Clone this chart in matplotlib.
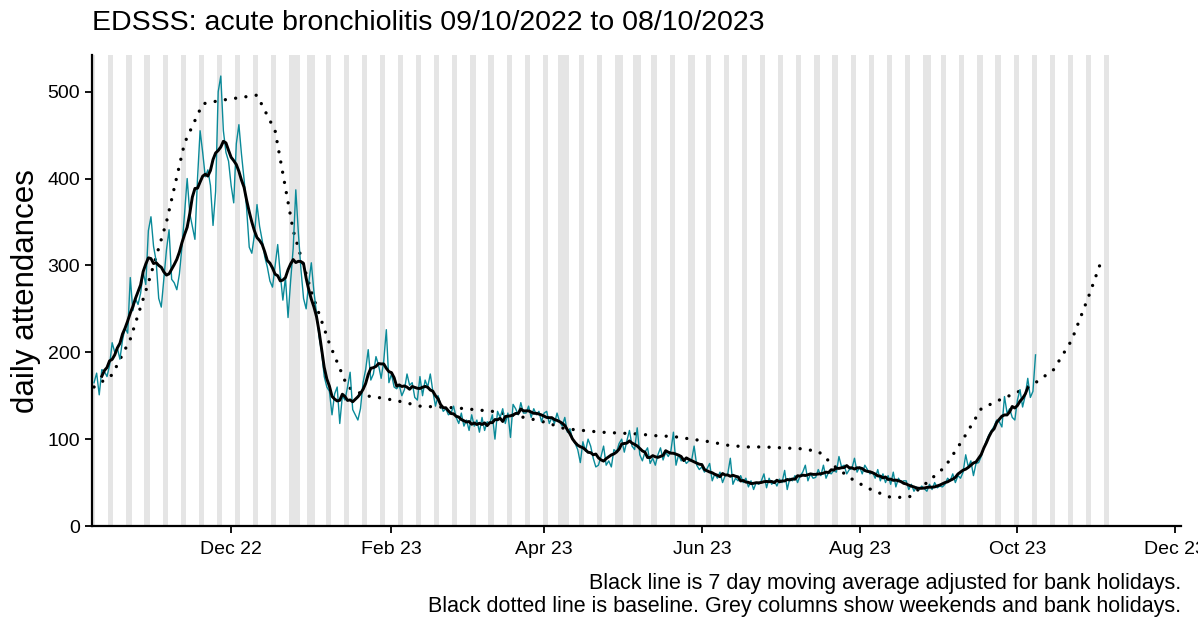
import pandas as pd
import matplotlib
matplotlib.use('Agg')
from matplotlib import pyplot as plt
import matplotlib.dates as mdates

plt.rcParams['font.family'] = ['Liberation Sans', 'DejaVu Sans']

# daily attendances, 09/10/2022 .. 08/10/2023 (one row per week, Sun..Sat)
daily = [
    165, 176, 151, 180, 178, 172, 185,
    211, 200, 205, 192, 214, 228, 222,
    286, 248, 262, 255, 268, 292, 278,
    340, 356, 322, 305, 262, 252, 285,
    318, 341, 284, 280, 272, 290, 322,
    360, 400, 360, 345, 330, 400, 455,
    430, 402, 410, 392, 346, 385, 500,
    518, 455, 430, 420, 392, 372, 440,
    462, 428, 399, 365, 321, 314, 335,
    370, 345, 329, 310, 298, 282, 275,
    300, 324, 290, 260, 286, 240, 282,
    320, 387, 337, 295, 262, 250, 280,
    303, 270, 245, 218, 200, 172, 160,
    155, 128, 152, 160, 118, 150, 145,
    160, 177, 134, 128, 122, 135, 165,
    180, 203, 168, 175, 195, 185, 170,
    190, 226, 165, 175, 160, 158, 162,
    150, 157, 175, 162, 165, 148, 145,
    172, 150, 168, 160, 175, 155, 138,
    150, 140, 132, 135, 128, 130, 138,
    125, 118, 130, 115, 122, 110, 128,
    115, 122, 108, 125, 110, 120, 118,
    128, 100, 132, 125, 135, 118, 130,
    102, 140, 135, 128, 142, 130, 130,
    138, 125, 135, 128, 132, 120, 130,
    132, 118, 125, 118, 130, 120, 115,
    125, 108, 112, 100, 95, 88, 73,
    97, 86, 100, 92, 78, 68, 70,
    80, 92, 70, 75, 68, 88, 85,
    95, 100, 85, 98, 110, 92, 88,
    113, 82, 75, 85, 90, 72, 78,
    70, 82, 90, 76, 85, 80, 86,
    108, 70, 82, 75, 78, 72, 75,
    75, 92, 70, 65, 68, 62, 66,
    72, 52, 60, 55, 62, 50, 58,
    60, 78, 48, 55, 52, 58, 50,
    55, 45, 52, 42, 50, 48, 52,
    60, 44, 55, 48, 52, 46, 54,
    50, 64, 42, 55, 52, 58, 50,
    58, 62, 70, 52, 60, 55, 56,
    65, 58, 70, 55, 62, 60, 64,
    62, 80, 68, 70, 60, 65, 66,
    78, 62, 68, 60, 70, 65, 60,
    62, 55, 65, 52, 60, 50, 58,
    48, 62, 45, 55, 50, 52, 52,
    42, 48, 40, 45, 42, 46, 43,
    40, 48, 42, 50, 44, 46, 45,
    48, 55, 52, 60, 50, 58, 55,
    62, 82, 68, 75, 58, 72, 73,
    80, 90, 98, 105, 110, 115, 122,
    120, 114, 149, 130, 135, 125, 122,
    145, 157, 137, 150, 170, 148, 155,
    197,
]

# baseline, read weekly from 09/10/2022 (last point 03/11/2023)
baseline = [160, 174, 215, 280, 350, 441, 486, 490, 493, 496,
            455, 340, 270, 210, 160, 150, 147, 143, 138, 137,
            136, 134, 132, 128, 124, 119, 112, 110, 108, 107,
            106, 104, 103, 100, 97, 93, 91, 91, 90, 89,
            86, 67, 52, 41, 33, 33, 50, 68, 100, 135,
            145, 154, 165, 180, 214, 268, 310]

bank_holidays = ['2022-12-26', '2022-12-27', '2023-01-02', '2023-04-07', '2023-04-10',
                 '2023-05-01', '2023-05-08', '2023-05-29', '2023-08-28']

start = pd.Timestamp('2022-10-09')
dates = pd.date_range(start, periods=len(daily), freq='D')
s = pd.Series(daily, index=dates)
ma = s.rolling(7, center=True).mean()
base_dates = list(pd.date_range(start, periods=len(baseline) - 1, freq='7D')) + [pd.Timestamp('2023-11-03')]

fig, ax = plt.subplots(figsize=(11.98, 6.2), dpi=100)
fig.subplots_adjust(left=0.0768, right=0.986, bottom=0.1516, top=0.911)

# grey columns for weekends and bank holidays
all_days = pd.date_range(start, '2023-11-05', freq='D')
grey = [d for d in all_days if d.weekday() >= 5] + [pd.Timestamp(b) for b in bank_holidays]
for d in grey:
    ax.axvspan(d - pd.Timedelta(hours=12), d + pd.Timedelta(hours=12),
               color='#e5e5e5', lw=0, zorder=0)

ax.plot(base_dates, baseline, color='black', lw=2.4, dashes=(0.01, 3.1),
        dash_capstyle='round', zorder=2)
ax.plot(s.index, s.values, color='#0a8a99', lw=1.0, zorder=3)
ax.plot(ma.index, ma.values, color='black', lw=2.1, zorder=4)

ax.set_xlim(pd.Timestamp('2022-10-08 05:00'), pd.Timestamp('2023-12-03 08:00'))
ax.set_ylim(0, 542)
ax.set_yticks([0, 100, 200, 300, 400, 500])
ax.xaxis.set_major_locator(mdates.MonthLocator(bymonth=[2, 4, 6, 8, 10, 12]))
ax.xaxis.set_major_formatter(mdates.DateFormatter('%b %y'))

for sp in ['top', 'right']:
    ax.spines[sp].set_visible(False)
for sp in ['left', 'bottom']:
    ax.spines[sp].set_linewidth(1.6)
ax.tick_params(axis='both', length=5, width=1.3, labelsize=14, colors='black')
ax.tick_params(axis='x', pad=6)

ax.set_ylabel('daily attendances', fontsize=22.5, labelpad=5)
fig.text(0.077, 0.963, 'EDSSS: acute bronchiolitis 09/10/2022 to 08/10/2023',
         fontsize=20.5, va='center', ha='left')
fig.text(0.986, 0.076,
         'Black line is 7 day moving average adjusted for bank holidays.\n'
         'Black dotted line is baseline. Grey columns show weekends and bank holidays.',
         fontsize=15.5, ha='right', va='top', linespacing=1.15)

fig.savefig('out.png', dpi=100)
